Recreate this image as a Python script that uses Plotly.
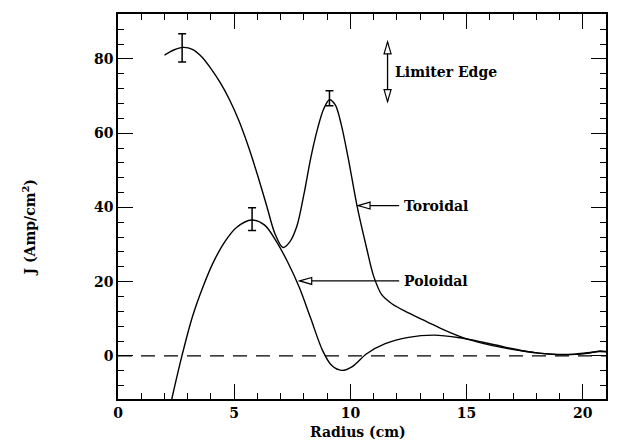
import plotly.graph_objects as go

# Toroidal current density profile (radius in cm, J in Amp/cm^2)
radius_tor = [2.0, 2.4, 2.8, 3.2, 3.6, 4.0, 4.4, 4.8, 5.2, 5.6, 6.0, 6.4, 6.75,
              7.1, 7.4, 7.7, 8.0, 8.3, 8.6, 8.85, 9.1, 9.35, 9.6, 9.9, 10.3,
              10.7, 11.0, 11.35, 11.8, 12.5, 13.3, 14.1, 14.9, 15.7, 16.5, 17.3,
              18.1, 18.9, 19.7, 20.4, 20.7, 21.0]
j_tor = [81.0, 82.4, 83.1, 82.6, 80.6, 77.4, 73.6, 69.0, 63.4, 56.6, 48.8, 40.4, 33.0,
         29.2, 30.8, 35.0, 43.5, 53.5, 61.5, 66.5, 69.0, 67.6, 62.5, 53.5, 40.0,
         29.0, 21.5, 16.5, 14.0, 11.6, 9.2, 6.8, 4.8, 3.4, 2.3, 1.45,
         0.75, 0.35, 0.5, 1.0, 1.2, 1.1]

# Poloidal current density profile
radius_pol = [2.3, 2.75, 3.2, 3.65, 4.1, 4.6, 5.1, 5.75, 6.3, 6.8, 7.3, 7.8, 8.3,
              8.8, 9.2, 9.63, 10.1, 10.7, 11.5, 12.5, 13.6, 14.7, 15.7, 16.7,
              17.7, 18.7, 19.5, 20.3, 20.7, 21.0]
j_pol = [-12.0, 0.0, 10.5, 18.5, 25.2, 30.8, 34.6, 36.6, 35.3, 31.0, 25.3, 18.5,
         10.0, 1.5, -2.6, -3.9, -2.8, 0.6, 3.3, 5.0, 5.6, 4.9, 3.7, 2.3,
         1.1, 0.45, 0.4, 0.8, 1.3, 1.2]

# Measurement error bars
err_r = [2.76, 5.77, 9.1]
err_j = [83.0, 36.85, 69.4]
err_d = [3.8, 3.05, 2.0]

x_ticks = [0, 5, 10, 15, 20]
y_ticks = [0, 20, 40, 60, 80]

# Label anchors (data coordinates)
limiter_r, limiter_top, limiter_bot = 11.6, 84.6, 68.5
tor_tip = (10.33, 40.5)
pol_tip = (7.82, 20.2)
label_r = 12.2

FONT = "DejaVu Serif"
LINE = dict(color="black", width=1.4, shape="spline", smoothing=0.9)

fig = go.Figure()
fig.add_trace(go.Scatter(x=radius_tor, y=j_tor, mode="lines", line=LINE,
                         showlegend=False, hoverinfo="skip"))
fig.add_trace(go.Scatter(x=radius_pol, y=j_pol, mode="lines", line=LINE,
                         showlegend=False, hoverinfo="skip"))
fig.add_trace(go.Scatter(x=err_r, y=err_j, mode="markers",
                         marker=dict(size=1, color="rgba(0,0,0,0)"),
                         error_y=dict(type="data", array=err_d, color="black",
                                      thickness=1.5, width=4),
                         showlegend=False, hoverinfo="skip"))

shapes = []
# dashed zero line
shapes.append(dict(type="line", xref="x", yref="y", x0=0, x1=21, y0=0, y1=0,
                   line=dict(color="black", width=1.3, dash="14px,9px")))


def arrow_head(xa, ya, path):
    return dict(type="path", xref="x", yref="y", xsizemode="pixel",
                ysizemode="pixel", xanchor=xa, yanchor=ya, path=path,
                fillcolor="white", line=dict(color="black", width=1.2))


# label pointers
for tip in (tor_tip, pol_tip):
    shapes.append(dict(type="line", xref="x", yref="y", x0=tip[0], x1=label_r - 0.1,
                       y0=tip[1], y1=tip[1], line=dict(color="black", width=1.3)))
    shapes.append(arrow_head(tip[0], tip[1], "M0,0 L12,3.5 L12,-3.5 Z"))

# limiter edge double arrow
shapes.append(dict(type="line", xref="x", yref="y", x0=limiter_r, x1=limiter_r,
                   y0=limiter_bot, y1=limiter_top, line=dict(color="black", width=1.3)))
shapes.append(arrow_head(limiter_r, limiter_top, "M0,0 L-3.5,-12 L3.5,-12 Z"))
shapes.append(arrow_head(limiter_r, limiter_bot, "M0,0 L-3.5,12 L3.5,12 Z"))

txt_font = dict(family=FONT, size=14, color="black", weight="bold")
annotations = [
    dict(x=label_r, y=tor_tip[1], xref="x", yref="y", text="Toroidal",
         showarrow=False, xanchor="left", yanchor="middle", font=txt_font),
    dict(x=label_r, y=pol_tip[1], xref="x", yref="y", text="Poloidal",
         showarrow=False, xanchor="left", yanchor="middle", font=txt_font),
    dict(x=limiter_r + 0.25, y=(limiter_top + limiter_bot) / 2, xref="x", yref="y",
         text="Limiter Edge", showarrow=False, xanchor="left", yanchor="middle",
         font=txt_font),
    dict(x=0.5, y=0, xref="paper", yref="paper", xshift=-4, yshift=-33,
         text="Radius (cm)", showarrow=False, xanchor="center", yanchor="middle",
         font=txt_font),
    dict(x=0, y=0.5, xref="paper", yref="paper", xshift=-89, yshift=-21,
         text="J (Amp/cm<sup>2</sup>)", textangle=-90, showarrow=False,
         xanchor="center", yanchor="middle", font=txt_font),
]

tick_font = dict(family=FONT, size=14, color="black", weight="bold")
axis_common = dict(ticks="inside", tickwidth=1.2, ticklen=15, tickcolor="black",
                   showline=True, linecolor="black", linewidth=1.5,
                   mirror="allticks", showgrid=False, zeroline=False,
                   tickfont=tick_font)

fig.update_layout(
    width=620, height=440,
    margin=dict(l=118, r=13, t=12, b=41),
    paper_bgcolor="white", plot_bgcolor="white",
    xaxis=dict(range=[0, 21], tickvals=x_ticks,
               minor=dict(tick0=0, dtick=1, ticks="inside", ticklen=6,
                          tickwidth=1, tickcolor="black"),
               **axis_common),
    yaxis=dict(range=[-11.6, 92.1], tickvals=y_ticks,
               minor=dict(tick0=0, dtick=4, ticks="inside", ticklen=6,
                          tickwidth=1, tickcolor="black"),
               **axis_common),
    shapes=shapes,
    annotations=annotations,
)

fig.write_html("out.html")
